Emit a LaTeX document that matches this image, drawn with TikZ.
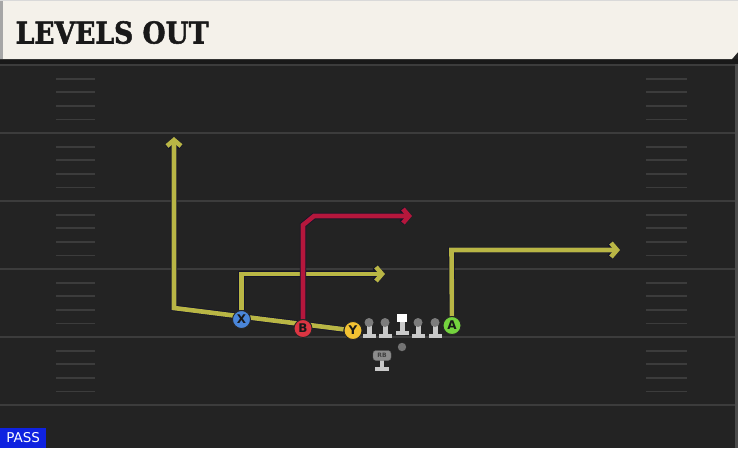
\documentclass[tikz,border=0pt]{standalone}
\usepackage{fontspec}
\setmainfont{DejaVu Sans}
\newfontfamily\titlefont[FakeBold=1.8]{DejaVu Serif}
\usetikzlibrary{arrows.meta}
\definecolor{fieldbg}{HTML}{232323}
\definecolor{headerbg}{HTML}{F4F1EA}
\definecolor{yardline}{HTML}{3C3C3C}
\definecolor{hashcol}{HTML}{3C3C3C}
\definecolor{routeyellow}{HTML}{B9B645}
\definecolor{routered}{HTML}{B5173C}
\definecolor{routeout}{HTML}{14142A}
\definecolor{xblue}{HTML}{4A86DA}
\definecolor{bred}{HTML}{DC3542}
\definecolor{yyellow}{HTML}{F3C232}
\definecolor{agreen}{HTML}{74D33E}
\definecolor{passblue}{HTML}{0F22E0}
\definecolor{olhead}{HTML}{7C7C7C}
\definecolor{olbody}{HTML}{C9C9C9}
\pgfdeclarelayer{field}
\pgfdeclarelayer{routes}
\pgfsetlayers{field,routes,main}
\begin{document}
\begin{tikzpicture}[x=1pt,y=-1pt,
  routebase/.style={line width=4.6pt, line join=miter, -{Straight Barb[length=6pt,width=14pt]}},
  routeoutline/.style={routebase, line width=6.2pt, draw=routeout},
  yroute/.style={routebase, draw=routeyellow},
  rroute/.style={routebase, draw=routered},
  player/.style={circle, draw=black!85, line width=0.9pt, minimum size=18pt, inner sep=0pt,
    font=\bfseries\fontsize{12}{12}\selectfont, text=black!90},
  hashmark/.style={draw=hashcol, line width=1.8pt},
  yard/.style={draw=yardline, line width=1.6pt},
]
\useasboundingbox (0,0) rectangle (738,448);
\begin{pgfonlayer}{field}
  % field
  \fill[fieldbg] (0,0) rectangle (738,448);
  \fill[black!90] (0,59) rectangle (738,64);
  \fill[black!70] (735,64) rectangle (738,448);
  % yard lines
  \foreach \yy in {65,133,201,269,337,405} {
    \draw[yard] (0,\yy) -- (735,\yy);
  }
  % hash marks
  \foreach \yy in {65,133,201,269,337} {
    \foreach \j in {1,2,3,4} {
      \draw[hashmark] (56,{\yy+13.6*\j}) -- (95,{\yy+13.6*\j});
      \draw[hashmark] (646,{\yy+13.6*\j}) -- (687,{\yy+13.6*\j});
    }
  }
  % header
  \fill[headerbg] (0,0) -- (738,0) -- (738,52) -- (732,59) -- (0,59) -- cycle;
  \fill[black!35] (0,0) rectangle (3,59);
  \fill[black!15] (0,0) rectangle (738,1);
\end{pgfonlayer}

\node[anchor=base west, inner sep=0pt, text=black!90] (title) at (15.5,43.5)
  {\scalebox{0.9}[1.02]{\titlefont\bfseries\fontsize{29.5}{29.5}\selectfont LEVELS OUT}};

% offensive line
\foreach \lx in {369,385,418,435} {
  \fill[olbody] (\lx-2.5,323) rectangle (\lx+2.5,335);
  \fill[olbody] (\lx-6.5,333.5) rectangle (\lx+6.5,337.5);
  \fill[olhead] (\lx,322.5) circle (4.5);
}
% center
\fill[white] (397,313.5) rectangle (406.5,322);
\fill[olbody] (399.5,322) rectangle (404.5,332);
\fill[olbody] (395.5,330.5) rectangle (408.5,334.5);
% ball
\fill[black!55] (402,347) circle (4.2);
% running back
\fill[olbody] (379.5,359) rectangle (384,368);
\fill[olbody] (375,366.5) rectangle (388.5,370.5);
\node[fill=black!45, draw=black!60, line width=0.4pt, rounded corners=3pt, minimum width=18pt,
  minimum height=10pt, inner sep=0pt, font=\bfseries\fontsize{6}{6}\selectfont, text=black!75]
  (RB) at (382,355.5) {RB};

% players
\node[player, fill=xblue] (X) at (241.5,319.5) {X};
\node[player, fill=bred] (B) at (303,328.5) {B};
\node[player, fill=yyellow] (Y) at (353,330.5) {Y};
\node[player, fill=agreen] (A) at (452,325.5) {A};

% route points
\coordinate (yc) at (174,308);
\coordinate (yt) at (174,137);
\coordinate (xc) at (241.5,274);
\coordinate (xt) at (385,274);
\coordinate (bc1) at (303,225);
\coordinate (bc2) at (314,216);
\coordinate (bt) at (412,216);
\coordinate (ac) at (451.5,250);
\coordinate (at) at (620,250);

\begin{pgfonlayer}{routes}
  \draw[routeoutline] (Y) -- (yc) -- (yt);
  \draw[routeoutline] (X) -- (xc) -- (xt);
  \draw[routeoutline] (A) -- (ac) -- (at);
  \draw[yroute] (Y) -- (yc) -- (yt);
  \draw[yroute] (X) -- (xc) -- (xt);
  \draw[yroute] (A) -- (ac) -- (at);
  \draw[routeoutline] (B) -- (bc1) -- (bc2) -- (bt);
  \draw[rroute] (B) -- (bc1) -- (bc2) -- (bt);
\end{pgfonlayer}

% play type
\node[fill=passblue, anchor=south west, minimum width=46pt, minimum height=20pt, inner sep=0pt,
  text=white, font=\fontsize{13.5}{13.5}\selectfont] (pass) at (0,448) {PASS};
\end{tikzpicture}
\end{document}
